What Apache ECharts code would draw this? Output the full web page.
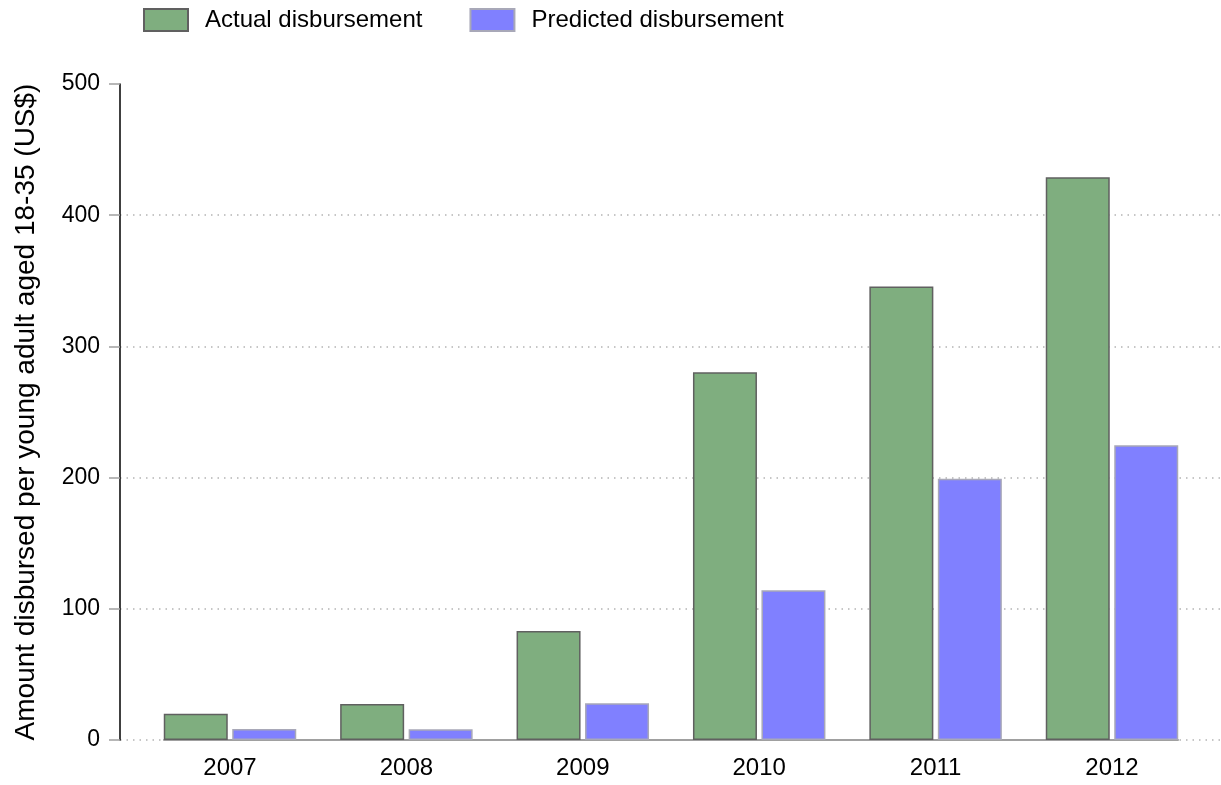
<!DOCTYPE html>
<html>
<head>
<meta charset="utf-8">
<script src="https://cdn.jsdelivr.net/npm/echarts@6/dist/echarts.min.js"></script>
<style>
  html, body { margin: 0; padding: 0; background: #fff; }
  #chart { width: 1221px; height: 785px; }
</style>
</head>
<body>
<div id="chart"></div>
<script>
// Disbursement per young adult aged 18-35, by year
const years = ['2007', '2008', '2009', '2010', '2011', '2012'];
const actual = [20.0, 27.4, 83.0, 280.3, 345.6, 428.9];
const predicted = [8.3, 8.1, 28.1, 114.1, 199.2, 224.6];
const yTicks = [0, 100, 200, 300, 400, 500];

const FONT = '"Liberation Sans", Arial, Helvetica, sans-serif';
const yMin = yTicks[0];
const yMax = yTicks[yTicks.length - 1];
const yStep = yTicks[1] - yTicks[0];

const chart = echarts.init(document.getElementById('chart'), null, { renderer: 'canvas' });

chart.setOption({
  animation: false,
  backgroundColor: '#ffffff',
  textStyle: { fontFamily: FONT, color: '#000' },
  legend: {
    left: 138,
    top: 3,
    icon: 'rect',
    itemWidth: 44,
    itemHeight: 22,
    itemGap: 47,
    textStyle: { fontSize: 24, color: '#000', fontFamily: FONT, padding: [0, 0, 0, 12] },
    data: ['Actual disbursement', 'Predicted disbursement']
  },
  grid: [
    // axis frame: y ticks, labels, dotted gridlines
    { left: 120, right: 0, top: 84, bottom: 45, outerBoundsMode: 'none' },
    // bars
    { left: 141.8, right: 20.8, top: 84, bottom: 45, outerBoundsMode: 'none' },
    // baseline under the bars
    { left: 164, right: 43, top: 84, bottom: 45, outerBoundsMode: 'none' }
  ],
  xAxis: [
    { gridIndex: 0, type: 'value', show: false },
    {
      gridIndex: 1,
      type: 'category',
      data: years,
      boundaryGap: true,
      axisLine: { show: false },
      axisTick: { show: false },
      axisLabel: { fontSize: 24, color: '#000', fontFamily: FONT, margin: 16 }
    },
    {
      gridIndex: 2,
      type: 'value',
      axisLine: { show: true, lineStyle: { color: '#a0a0a0', width: 2 } },
      axisTick: { show: false },
      axisLabel: { show: false },
      splitLine: { show: false }
    }
  ],
  yAxis: [
    {
      gridIndex: 0,
      type: 'value',
      min: yMin,
      max: yMax,
      interval: yStep,
      name: 'Amount disbursed per young adult aged 18-35 (US$)',
      nameLocation: 'middle',
      nameGap: 80,
      nameTextStyle: { fontSize: 28, color: '#000', fontFamily: FONT },
      axisLine: { show: true, lineStyle: { color: '#000', width: 1.5 } },
      axisTick: { show: true, inside: false, length: 11, lineStyle: { color: '#a0a0a0', width: 1.5 } },
      axisLabel: { fontSize: 23, color: '#000', fontFamily: FONT, margin: 20 },
      splitLine: {
        show: true,
        showMaxLine: false,
        lineStyle: { color: '#b4b4b4', width: 1.5, type: [1.5, 5] }
      }
    },
    { gridIndex: 1, type: 'value', min: yMin, max: yMax, show: false, splitLine: { show: false } },
    { gridIndex: 2, type: 'value', min: yMin, max: yMax, show: false, splitLine: { show: false } }
  ],
  series: [
    {
      name: 'Actual disbursement',
      type: 'bar',
      xAxisIndex: 1,
      yAxisIndex: 1,
      data: actual,
      barWidth: 64,
      barGap: '7%',
      itemStyle: { color: '#7fae7f', borderColor: '#606060', borderWidth: 1.5 }
    },
    {
      name: 'Predicted disbursement',
      type: 'bar',
      xAxisIndex: 1,
      yAxisIndex: 1,
      data: predicted,
      barWidth: 64,
      barGap: '7%',
      itemStyle: { color: '#8080ff', borderColor: '#a8a8b8', borderWidth: 1.5 }
    }
  ]
});
</script>
</body>
</html>
